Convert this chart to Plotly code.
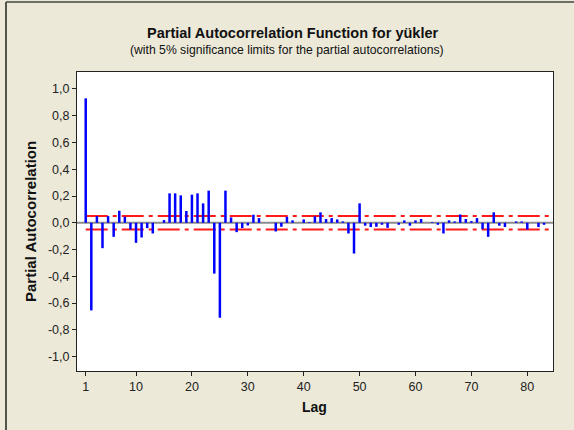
import plotly.graph_objects as go

# ---- data ----
lags = list(range(1, 84))
pacf = [0.93, -0.655, 0.05, -0.19, 0.05, -0.105, 0.09, 0.045, -0.05, -0.15,
        -0.11, -0.04, -0.08, 0.0, 0.02, 0.22, 0.22, 0.205, 0.088, 0.21,
        0.22, 0.145, 0.24, -0.38, -0.71, 0.24, 0.04, -0.07, -0.04, -0.02,
        0.06, 0.035, 0.0, 0.0, -0.065, -0.03, 0.045, 0.018, 0.0, 0.025,
        0.005, 0.048, 0.078, 0.028, 0.035, 0.025, 0.01, -0.08, -0.23, 0.145,
        -0.022, -0.032, -0.03, -0.015, -0.038, 0.0, -0.015, 0.018, -0.022, 0.018,
        0.028, 0.0, 0.005, -0.015, -0.08, 0.018, 0.01, 0.062, 0.028, 0.012,
        0.035, -0.048, -0.105, 0.078, -0.022, -0.032, 0.0, 0.01, 0.01, -0.05,
        0.0, -0.032, -0.015]
sig_limit = 0.051
x_tickvals = [1, 10, 20, 30, 40, 50, 60, 70, 80]
x_ticktext = ["1", "10", "20", "30", "40", "50", "60", "70", "80"]
y_tickvals = [1.0, 0.8, 0.6, 0.4, 0.2, 0.0, -0.2, -0.4, -0.6, -0.8, -1.0]
y_ticktext = ["1,0", "0,8", "0,6", "0,4", "0,2", "0,0", "-0,2", "-0,4", "-0,6", "-0,8", "-1,0"]

title = "Partial Autocorrelation Function for yükler"
subtitle = "(with 5% significance limits for the partial autocorrelations)"

# ---- layout geometry ----
W, H = 574, 430
L, R, T, B = 77, 21, 72, 59
XR = [-0.56, 84.6]
YR = [-1.108, 1.127]
FONT = "Liberation Sans Narrow, Arial Narrow, Liberation Sans, Arial, sans-serif"

def px_to_paper_x(px):
    return (px - L) / (W - L - R)

def px_to_paper_y(py):
    return (H - B - py) / (H - T - B)

# stems
bx, by = [], []
for lag, v in zip(lags, pacf):
    bx += [lag, lag, None]
    by += [0, v, None]

fig = go.Figure()
# zero line
fig.add_trace(go.Scatter(x=XR, y=[0, 0], mode="lines",
                         line=dict(color="#8c8c8c", width=2.2),
                         hoverinfo="skip", showlegend=False))
# significance limits
for s in (1, -1):
    fig.add_trace(go.Scatter(x=[lags[0], XR[1]], y=[s * sig_limit, s * sig_limit],
                             mode="lines",
                             line=dict(color="#ff1a1a", width=2, dash="22px,5px,4px,5px"),
                             hoverinfo="skip", showlegend=False))
# bars
fig.add_trace(go.Scatter(x=bx, y=by, mode="lines",
                         line=dict(color="#0000ff", width=2.5),
                         showlegend=False))

fig.update_layout(
    width=W, height=H,
    margin=dict(l=L, r=R, t=T, b=B),
    paper_bgcolor="#ECE9D8",
    plot_bgcolor="white",
    font=dict(family=FONT, size=12.5, color="#111"),
    showlegend=False,
    annotations=[
        dict(text="<b>" + title + "</b>", xref="paper", yref="paper",
             x=px_to_paper_x(292), y=px_to_paper_y(33), xanchor="center", yanchor="middle",
             showarrow=False, font=dict(family=FONT, size=14.5, color="#111")),
        dict(text=subtitle, xref="paper", yref="paper",
             x=px_to_paper_x(287), y=px_to_paper_y(50), xanchor="center", yanchor="middle",
             showarrow=False, font=dict(family=FONT, size=12.2, color="#111")),
        dict(text="<b>Partial Autocorrelation</b>", xref="paper", yref="paper",
             x=px_to_paper_x(30), y=px_to_paper_y(222), xanchor="center", yanchor="middle",
             textangle=-90, showarrow=False, font=dict(family=FONT, size=15, color="#111")),
        dict(text="<b>Lag</b>", xref="paper", yref="paper",
             x=px_to_paper_x(314), y=px_to_paper_y(407), xanchor="center", yanchor="middle",
             showarrow=False, font=dict(family=FONT, size=14, color="#111")),
    ],
    shapes=[
        dict(type="line", xref="paper", yref="paper",
             x0=px_to_paper_x(6), x1=px_to_paper_x(6),
             y0=px_to_paper_y(2), y1=px_to_paper_y(430),
             line=dict(color="#222", width=1.5)),
        dict(type="line", xref="paper", yref="paper",
             x0=px_to_paper_x(6), x1=px_to_paper_x(574),
             y0=px_to_paper_y(2), y1=px_to_paper_y(2),
             line=dict(color="#444", width=1.5)),
    ],
)
fig.update_xaxes(range=XR, tickmode="array", tickvals=x_tickvals, ticktext=x_ticktext,
                 ticks="outside", ticklen=4, tickcolor="#222", showgrid=False, zeroline=False,
                 showline=True, linecolor="#222", linewidth=1, mirror=True,
                 tickfont=dict(family=FONT, size=12.5, color="#222"))
fig.update_yaxes(range=YR, tickmode="array", tickvals=y_tickvals, ticktext=y_ticktext,
                 ticks="outside", ticklen=4, tickcolor="#222", showgrid=False, zeroline=False,
                 showline=True, linecolor="#222", linewidth=1, mirror=True,
                 tickfont=dict(family=FONT, size=12.5, color="#222"))

fig.write_html("out.html")
